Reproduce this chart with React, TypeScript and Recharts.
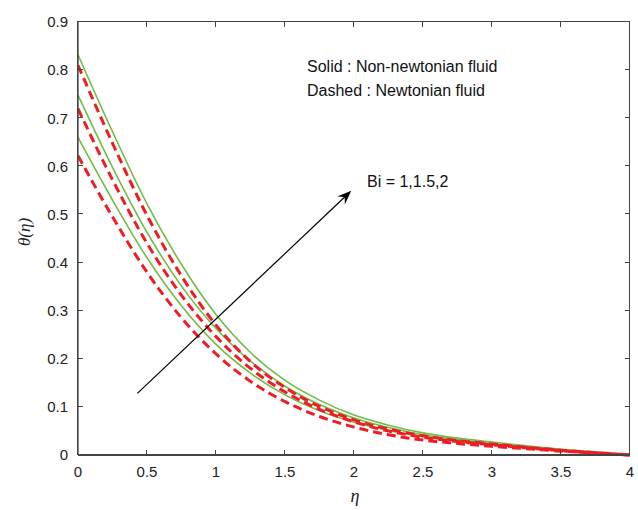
import React from "react";
import { LineChart, Line, XAxis, YAxis, ReferenceLine } from "recharts";

// similarity variable
const eta = [0, 0.25, 0.5, 0.75, 1, 1.25, 1.5, 1.75, 2, 2.25, 2.5, 2.75, 3, 3.25, 3.5, 3.75, 4];

// solid: non-newtonian fluid
const solidBi1 = [0.66, 0.53, 0.41, 0.31, 0.23, 0.17, 0.125, 0.092, 0.068, 0.051, 0.038, 0.029, 0.022, 0.016, 0.01, 0.005, 0];
const solidBi15 = [0.748, 0.598, 0.463, 0.351, 0.263, 0.195, 0.143, 0.105, 0.077, 0.057, 0.042, 0.032, 0.024, 0.017, 0.011, 0.005, 0];
const solidBi2 = [0.832, 0.672, 0.522, 0.396, 0.292, 0.213, 0.155, 0.114, 0.083, 0.062, 0.046, 0.035, 0.027, 0.019, 0.012, 0.006, 0];

// dashed: newtonian fluid
const dashedBi1 = [0.622, 0.495, 0.38, 0.285, 0.21, 0.153, 0.111, 0.08, 0.058, 0.042, 0.031, 0.024, 0.018, 0.013, 0.008, 0.004, 0];
const dashedBi15 = [0.72, 0.572, 0.44, 0.332, 0.246, 0.18, 0.131, 0.095, 0.069, 0.05, 0.037, 0.028, 0.021, 0.015, 0.009, 0.004, 0];
const dashedBi2 = [0.81, 0.648, 0.498, 0.372, 0.27, 0.194, 0.14, 0.101, 0.073, 0.054, 0.04, 0.03, 0.023, 0.016, 0.01, 0.005, 0];

const xTicks = [0, 0.5, 1, 1.5, 2, 2.5, 3, 3.5, 4];
const yTicks = [0, 0.1, 0.2, 0.3, 0.4, 0.5, 0.6, 0.7, 0.8, 0.9];
const xMin = 0;
const xMax = 4;
const yMin = 0;
const yMax = 0.9;

const rows = eta.map((e, i) => ({
    eta: e,
    s1: solidBi1[i],
    s15: solidBi15[i],
    s2: solidBi2[i],
    d1: dashedBi1[i],
    d15: dashedBi15[i],
    d2: dashedBi2[i],
}));

const W = 638;
const H = 510;
const MARGIN = { top: 22, right: 8, bottom: 25, left: 0 };
const X_AXIS_H = 30;
const Y_AXIS_W = 78;
// plot box, derived from the chart layout above
const BOX = {
    left: MARGIN.left + Y_AXIS_W,
    right: W - MARGIN.right,
    top: MARGIN.top,
    bottom: H - MARGIN.bottom - X_AXIS_H,
};

const GREEN = "#6fbe45";
const RED = "#ee1c25";
const AXIS = "#444";
const TICK_LEN = 5;
const SANS = "'Liberation Sans', Arial, sans-serif";
const tickFont = { fontFamily: SANS, fontSize: 15, fill: "#222" };

const ArrowShape = (props: any) => {
    const { x1, y1, x2, y2 } = props;
    const a = Math.atan2(y2 - y1, x2 - x1);
    const c = Math.cos(a);
    const s = Math.sin(a);
    const len = 14;
    const half = 5.5;
    const notch = 9;
    const pts = [
        [x2, y2],
        [x2 - len * c + half * s, y2 - len * s - half * c],
        [x2 - notch * c, y2 - notch * s],
        [x2 - len * c - half * s, y2 - len * s + half * c],
    ];
    return (
        <g>
            <line x1={x1} y1={y1} x2={x2 - notch * c} y2={y2 - notch * s} stroke="#000" strokeWidth={1.2} />
            <polygon points={pts.map((p) => p.join(",")).join(" ")} fill="#000" />
        </g>
    );
};

// box with inward ticks on all four sides, as plain bordered boxes
const Frame = () => {
    const px = (v: number) => BOX.left + ((v - xMin) / (xMax - xMin)) * (BOX.right - BOX.left);
    const py = (v: number) => BOX.bottom - ((v - yMin) / (yMax - yMin)) * (BOX.bottom - BOX.top);
    const bits: React.CSSProperties[] = [];
    xTicks.forEach((t) => {
        const x = Math.round(px(t)) - 1;
        bits.push({ left: x, top: BOX.bottom - TICK_LEN, width: 1, height: TICK_LEN });
        bits.push({ left: x, top: BOX.top, width: 1, height: TICK_LEN });
    });
    yTicks.forEach((t) => {
        const y = Math.round(py(t)) - 1;
        bits.push({ left: BOX.left, top: y, width: TICK_LEN, height: 1 });
        bits.push({ left: BOX.right - TICK_LEN, top: y, width: TICK_LEN, height: 1 });
    });
    return (
        <>
            <div
                style={{
                    position: "absolute",
                    left: BOX.left - 1,
                    top: BOX.top - 1,
                    width: BOX.right - BOX.left + 1,
                    height: BOX.bottom - BOX.top + 1,
                    border: `1px solid ${AXIS}`,
                    boxSizing: "border-box",
                    pointerEvents: "none",
                }}
            />
            {bits.map((b, i) => (
                <div key={i} style={{ position: "absolute", background: AXIS, pointerEvents: "none", ...b }} />
            ))}
        </>
    );
};

const App = () => {
    const series = [
        { key: "s2", color: GREEN, dash: undefined, width: 1.6 },
        { key: "s15", color: GREEN, dash: undefined, width: 1.6 },
        { key: "s1", color: GREEN, dash: undefined, width: 1.6 },
        { key: "d2", color: RED, dash: "9 5", width: 3 },
        { key: "d15", color: RED, dash: "9 5", width: 3 },
        { key: "d1", color: RED, dash: "9 5", width: 3 },
    ];

    return (
        <div style={{ position: "absolute", left: 0, top: 0, width: W, height: H, background: "#fff" }}>
            <LineChart width={W} height={H} data={rows} margin={MARGIN}>
                <XAxis
                    dataKey="eta"
                    type="number"
                    domain={[xMin, xMax]}
                    ticks={xTicks}
                    height={X_AXIS_H}
                    stroke={AXIS}
                    strokeWidth={2}
                    tickLine={false}
                    tickSize={0}
                    tickMargin={11}
                    tick={tickFont}
                    interval={0}
                />
                <YAxis
                    type="number"
                    domain={[yMin, yMax]}
                    ticks={yTicks}
                    width={Y_AXIS_W}
                    stroke={AXIS}
                    strokeWidth={1.3}
                    tickLine={false}
                    tickSize={0}
                    tickMargin={10}
                    tick={tickFont}
                    interval={0}
                    tickFormatter={(v: number) => (v === 0 ? "0" : v.toFixed(1))}
                />
                {series.map((sr) => (
                    <Line
                        key={sr.key}
                        dataKey={sr.key}
                        type="monotone"
                        stroke={sr.color}
                        strokeWidth={sr.width}
                        strokeDasharray={sr.dash}
                        dot={false}
                        activeDot={false}
                        isAnimationActive={false}
                    />
                ))}
                <ReferenceLine
                    segment={[
                        { x: 0.43, y: 0.128 },
                        { x: 1.98, y: 0.549 },
                    ]}
                    shape={ArrowShape}
                    ifOverflow="visible"
                />
            </LineChart>
            <Frame />
            <svg width={W} height={H} style={{ position: "absolute", left: 0, top: 0, pointerEvents: "none" }}>
                <g fontFamily={SANS} fontSize={16} fill="#111">
                    <text x={307} y={71.5}>Solid : Non-newtonian fluid</text>
                    <text x={307} y={95.5}>Dashed : Newtonian fluid</text>
                    <text x={367} y={187}>Bi = 1,1.5,2</text>
                </g>
                <text
                    x={0}
                    y={0}
                    transform="translate(30,232) rotate(-90)"
                    textAnchor="middle"
                    fontFamily="'Liberation Serif', 'DejaVu Serif', serif"
                    fontStyle="italic"
                    fontSize={17}
                    fill="#222"
                >
                    θ(η)
                </text>
                <text
                    x={355}
                    y={502}
                    textAnchor="middle"
                    fontFamily="'Liberation Serif', 'DejaVu Serif', serif"
                    fontStyle="italic"
                    fontSize={18}
                    fill="#222"
                >
                    η
                </text>
            </svg>
        </div>
    );
};

export default App;
